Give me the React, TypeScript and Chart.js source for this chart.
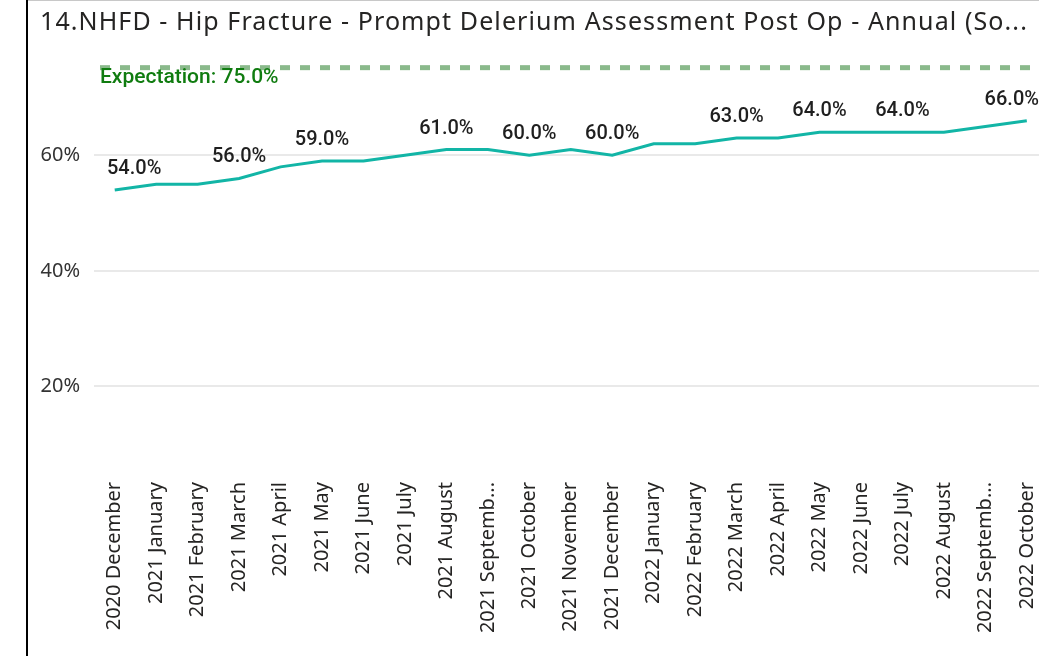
import React, { useEffect, useRef } from "react";
import { Chart, registerables } from "chart.js";

Chart.register(...registerables);

const TITLE = "14.NHFD - Hip Fracture - Prompt Delerium Assessment Post Op - Annual (So...";

const categories = [
  "2020 December",
  "2021 January",
  "2021 February",
  "2021 March",
  "2021 April",
  "2021 May",
  "2021 June",
  "2021 July",
  "2021 August",
  "2021 Septemb...",
  "2021 October",
  "2021 November",
  "2021 December",
  "2022 January",
  "2022 February",
  "2022 March",
  "2022 April",
  "2022 May",
  "2022 June",
  "2022 July",
  "2022 August",
  "2022 Septemb...",
  "2022 October",
];

const values = [54, 55, 55, 56, 58, 59, 59, 60, 61, 61, 60, 61, 60, 62, 62, 63, 63, 64, 64, 64, 64, 65, 66];

const labelledIndices = [0, 3, 5, 8, 10, 12, 15, 17, 19, 22];

const expectation = 75;
const expectationLabel = "Expectation: 75.0%";

const yTicks = [20, 40, 60];

const VIEW_W = 1039;
const VIEW_H = 656;
const CANVAS_W = 1060;

const overlayPlugin = {
  id: "overlay",
  beforeDraw(chart: any) {
    const ctx = chart.ctx;
    ctx.save();
    ctx.fillStyle = "#ffffff";
    ctx.fillRect(0, 0, chart.width, chart.height);
    ctx.fillStyle = "#000000";
    ctx.fillRect(26, 0, 2, chart.height);
    ctx.fillStyle = "#c8c8c8";
    ctx.fillRect(28, 0, chart.width, 1);
    ctx.font = '25px "Noto Sans"';
    (ctx as any).letterSpacing = "1.1px";
    ctx.fillStyle = "#252423";
    ctx.textAlign = "left";
    ctx.textBaseline = "alphabetic";
    ctx.fillText(TITLE, 40, 30);
    (ctx as any).letterSpacing = "0px";
    ctx.restore();
  },
  afterDatasetsDraw(chart: any) {
    const ctx = chart.ctx;
    const xs = chart.scales.x;
    const ys = chart.scales.y;
    ctx.save();
    const ey = ys.getPixelForValue(expectation);
    ctx.strokeStyle = "#8AB98B";
    ctx.lineWidth = 5;
    ctx.setLineDash([10, 10]);
    ctx.beginPath();
    ctx.moveTo(100, ey - 1);
    ctx.lineTo(chart.width, ey - 1);
    ctx.stroke();
    ctx.setLineDash([]);
    ctx.textAlign = "left";
    ctx.textBaseline = "alphabetic";
    ctx.font = '500 21px Roboto';
    ctx.fillStyle = "#107C10";
    ctx.fillText(expectationLabel, 100, ey + 14);

    ctx.font = '500 20px Roboto';
    ctx.fillStyle = "#1f1f1f";
    labelledIndices.forEach((i) => {
      const text = values[i].toFixed(1) + "%";
      const px = xs.getPixelForValue(i);
      const py = ys.getPixelForValue(values[i]);
      const w = ctx.measureText(text).width;
      let left = px - w / 2;
      left = Math.max(left, 107);
      left = Math.min(left, VIEW_W - w);
      ctx.fillText(text, left, py - 16);
    });
    ctx.restore();
  },
};

export default function App() {
  const ref = useRef<HTMLCanvasElement | null>(null);

  useEffect(() => {
    if (!ref.current) return;
    const chart = new Chart(ref.current, {
      type: "line",
      data: {
        labels: categories,
        datasets: [
          {
            data: values,
            borderColor: "#12B5A6",
            borderWidth: 3,
            pointRadius: 0,
            pointHoverRadius: 0,
            tension: 0,
            fill: false,
          },
        ],
      },
      options: {
        animation: false,
        responsive: false,
        maintainAspectRatio: false,
        layout: { padding: { top: 60, right: 9, bottom: 0, left: 0 } },
        plugins: {
          legend: { display: false },
          tooltip: { enabled: false },
          title: { display: false },
        },
        scales: {
          x: {
            type: "category",
            offset: true,
            grid: { display: false, drawTicks: false },
            border: { display: false },
            ticks: {
              autoSkip: false,
              maxRotation: 90,
              minRotation: 90,
              padding: 9,
              color: "#252423",
              font: { family: "'Noto Sans'", size: 20 },
            },
            afterFit: (s: any) => {
              s.height = 183;
            },
          },
          y: {
            min: 5,
            max: 76.5,
            afterBuildTicks: (s: any) => {
              s.ticks = yTicks.map((v) => ({ value: v }));
            },
            grid: { color: "#E9E9E9", lineWidth: 2, drawTicks: false },
            border: { display: false },
            ticks: {
              padding: 14,
              color: "#333333",
              font: { family: "'Noto Sans'", size: 20 },
              callback: (v: any) => v + "%",
            },
            afterFit: (s: any) => {
              s.width = 94;
            },
          },
        },
      },
      plugins: [overlayPlugin],
    });
    return () => chart.destroy();
  }, []);

  return (
    <div
      style={{
        position: "absolute",
        left: 0,
        top: 0,
        width: VIEW_W,
        height: VIEW_H,
        overflow: "hidden",
        background: "#fff",
      }}
    >
      <canvas
        ref={ref}
        width={CANVAS_W}
        height={VIEW_H}
        style={{ display: "block", width: CANVAS_W, height: VIEW_H }}
      />
    </div>
  );
}
